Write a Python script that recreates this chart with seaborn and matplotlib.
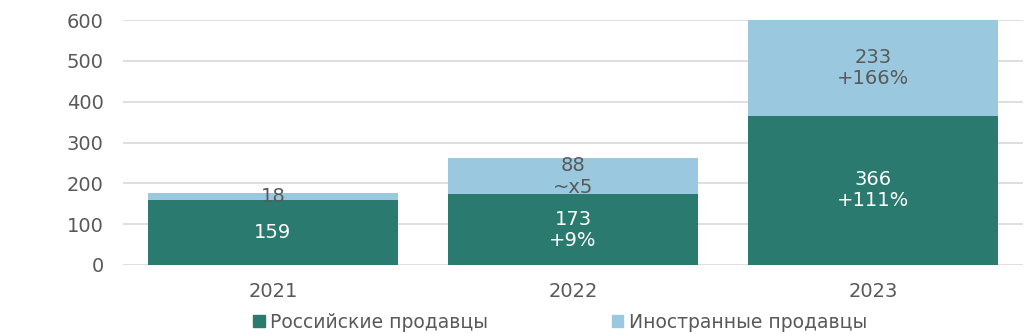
import matplotlib
matplotlib.use("Agg")
import matplotlib.pyplot as plt
from matplotlib.patches import Patch
import seaborn as sns
import pandas as pd

years = ["2021", "2022", "2023"]
russian = [159, 173, 366]
foreign = [18, 88, 233]
russian_labels = ["159", "173\n+9%", "366\n+111%"]
foreign_labels = ["18", "88\n~x5", "233\n+166%"]

GREEN = "#2a7a70"
BLUE = "#9ac8de"
GREY_TEXT = "#595959"

sns.set_theme(style="white")
plt.rcParams["font.family"] = ["DejaVu Sans"]

df = pd.DataFrame({
    "year": years,
    "russian": russian,
    "foreign": foreign,
})
df["total"] = df["russian"] + df["foreign"]

fig = plt.figure(figsize=(10.24, 3.34), dpi=100)
ax = fig.add_axes([123 / 1024, 1 - 265 / 334, 900 / 1024, 245 / 334])

# stacked bars: totals in light blue, Russian sellers in teal on top
sns.barplot(data=df, x="year", y="total", color=BLUE, width=0.833,
            saturation=1, linewidth=0, ax=ax, zorder=2)
sns.barplot(data=df, x="year", y="russian", color=GREEN, width=0.833,
            saturation=1, linewidth=0, ax=ax, zorder=3)

ax.set_xlim(-0.5, 2.5)
ax.set_ylim(0, 600)
ax.set_yticks(range(0, 601, 100))
ax.yaxis.grid(True, color="#d9d9d9", linewidth=1.2, zorder=0)
ax.set_axisbelow(True)
for s in ax.spines.values():
    s.set_visible(False)
ax.set_xlabel("")
ax.set_ylabel("")
ax.tick_params(axis="y", length=0, pad=14, labelsize=14, labelcolor=GREY_TEXT)
ax.tick_params(axis="x", length=0, pad=12, labelsize=14, labelcolor=GREY_TEXT)

for i in range(len(years)):
    r, f = russian[i], foreign[i]
    ax.text(i, r / 2, russian_labels[i], ha="center", va="center",
            color="white", fontsize=14, linespacing=1.15, zorder=5)
    ax.text(i, r + f / 2, foreign_labels[i],
            ha="center", va="center", color=GREY_TEXT, fontsize=14,
            linespacing=1.15, zorder=5)

handles = [Patch(color=GREEN, label="Российские продавцы"),
           Patch(color=BLUE, label="Иностранные продавцы")]
fig.legend(handles=handles, loc="center", bbox_to_anchor=(0.547, 1 - 322 / 334),
           ncol=2, frameon=False, fontsize=13.5, handlelength=0.6,
           handleheight=0.6, handletextpad=0.3, columnspacing=6.6,
           labelcolor=GREY_TEXT)

fig.savefig("out.png", dpi=100, facecolor="white")
